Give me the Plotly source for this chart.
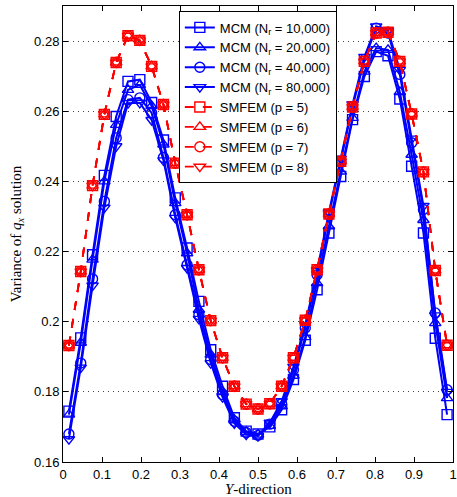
import plotly.graph_objects as go

n_pts = 33
y_pos = [(i + 0.5) / n_pts for i in range(n_pts)]

mcm_10k = [0.1745, 0.1954, 0.2191, 0.2417, 0.2585, 0.2685, 0.2690, 0.2625, 0.2518, 0.2353,
           0.2210, 0.2058, 0.1920, 0.1816, 0.1726, 0.1688, 0.1680, 0.1700, 0.1749, 0.1835,
           0.1947, 0.2091, 0.2253, 0.2414, 0.2576, 0.2699, 0.2770, 0.2758, 0.2635, 0.2443,
           0.2253, 0.1953, 0.1735]
mcm_20k = [0.1735, 0.1940, 0.2177, 0.2400, 0.2561, 0.2661, 0.2675, 0.2615, 0.2505, 0.2338,
           0.2195, 0.2034, 0.1906, 0.1801, 0.1721, 0.1686, 0.1678, 0.1703, 0.1759, 0.1846,
           0.1956, 0.2110, 0.2272, 0.2428, 0.2581, 0.2713, 0.2780, 0.2775, 0.2655, 0.2476,
           0.2290, 0.1996, 0.1782]
mcm_40k = [0.1680, 0.1882, 0.2122, 0.2343, 0.2524, 0.2633, 0.2638, 0.2595, 0.2468, 0.2305,
           0.2162, 0.2020, 0.1892, 0.1792, 0.1716, 0.1684, 0.1676, 0.1708, 0.1766, 0.1863,
           0.1982, 0.2134, 0.2305, 0.2457, 0.2612, 0.2747, 0.2837, 0.2823, 0.2705, 0.2510,
           0.2320, 0.2025, 0.1806]
mcm_80k = [0.1665, 0.1869, 0.2103, 0.2325, 0.2500, 0.2623, 0.2624, 0.2575, 0.2460, 0.2296,
           0.2153, 0.2008, 0.1882, 0.1785, 0.1710, 0.1678, 0.1674, 0.1712, 0.1773, 0.1871,
           0.1991, 0.2145, 0.2312, 0.2465, 0.2620, 0.2755, 0.2842, 0.2830, 0.2718, 0.2522,
           0.2330, 0.2018, 0.1800]

smfem_p5 = [0.1932, 0.2143, 0.2388, 0.2591, 0.2739, 0.2815, 0.2802, 0.2728, 0.2619, 0.2452,
            0.2305, 0.2148, 0.2003, 0.1897, 0.1816, 0.1765, 0.1751, 0.1766, 0.1816, 0.1897,
            0.2004, 0.2148, 0.2307, 0.2457, 0.2612, 0.2742, 0.2823, 0.2825, 0.2742, 0.2592,
            0.2427, 0.2146, 0.1933]
smfem_p6 = list(smfem_p5)
smfem_p7 = list(smfem_p5)
smfem_p8 = list(smfem_p5)

mcm_labels = ["MCM (N<sub>r</sub> = 10,000)", "MCM (N<sub>r</sub> = 20,000)",
              "MCM (N<sub>r</sub> = 40,000)", "MCM (N<sub>r</sub> = 80,000)"]
smfem_labels = ["SMFEM (p = 5)", "SMFEM (p = 6)", "SMFEM (p = 7)", "SMFEM (p = 8)"]
symbols = ["square-open", "triangle-up-open", "circle-open", "triangle-down-open"]

y_ticks = [0.16, 0.18, 0.20, 0.22, 0.24, 0.26, 0.28]
y_tick_text = ["0.16", "0.18", "0.2", "0.22", "0.24", "0.26", "0.28"]
x_ticks = [0, 0.1, 0.2, 0.3, 0.4, 0.5, 0.6, 0.7, 0.8, 0.9, 1]
x_tick_text = ["0", "0.1", "0.2", "0.3", "0.4", "0.5", "0.6", "0.7", "0.8", "0.9", "1"]

fig = go.Figure()
for vals, lab, sym in zip([mcm_10k, mcm_20k, mcm_40k, mcm_80k], mcm_labels, symbols):
    fig.add_trace(go.Scatter(x=y_pos, y=vals, name=lab, mode="lines+markers",
                             line=dict(color="#0000ff", width=2),
                             marker=dict(symbol=sym, size=10, color="#0000ff",
                                         line=dict(width=1.4, color="#0000ff"))))
for vals, lab, sym in zip([smfem_p5, smfem_p6, smfem_p7, smfem_p8], smfem_labels, symbols):
    fig.add_trace(go.Scatter(x=y_pos, y=vals, name=lab, mode="lines+markers",
                             line=dict(color="#ff0000", width=1.8, dash="dash"),
                             marker=dict(symbol=sym, size=10, color="#ff0000",
                                         line=dict(width=1.4, color="#ff0000"))))

fig.update_layout(
    width=457, height=497,
    margin=dict(l=63, r=0, t=6, b=35),
    paper_bgcolor="white", plot_bgcolor="white",
    font=dict(family="Liberation Sans, Arial, sans-serif", size=13, color="black"),
    showlegend=True,
    legend=dict(x=0.297, y=0.988, xanchor="left", yanchor="top",
                bgcolor="white", bordercolor="black", borderwidth=1,
                font=dict(size=13), tracegroupgap=0, itemwidth=30),
    xaxis=dict(range=[0, 1], tickvals=x_ticks, ticktext=x_tick_text,
               showgrid=False, zeroline=False, showline=True, linecolor="black",
               linewidth=1, mirror="allticks", ticks="inside", ticklen=5,
               tickcolor="black", ticklabeloverflow="allow"),
    yaxis=dict(range=[0.16, 0.29], tickvals=y_ticks, ticktext=y_tick_text,
               showgrid=True, gridcolor="#444444", griddash="1px,4px", gridwidth=1,
               zeroline=False, showline=True, linecolor="black",
               linewidth=1, mirror="allticks", ticks="inside", ticklen=5,
               tickcolor="black",
               title=dict(text="Variance of <i>q</i><sub><i>x</i></sub> solution",
                          font=dict(family="Liberation Serif, serif", size=15),
                          standoff=8)),
    annotations=[dict(text="<i>Y</i>-direction", xref="paper", yref="paper",
                      x=0.5, y=-0.06, xanchor="center", yanchor="middle",
                      showarrow=False,
                      font=dict(family="Liberation Serif, serif", size=15))],
)

fig.write_html("out.html")
